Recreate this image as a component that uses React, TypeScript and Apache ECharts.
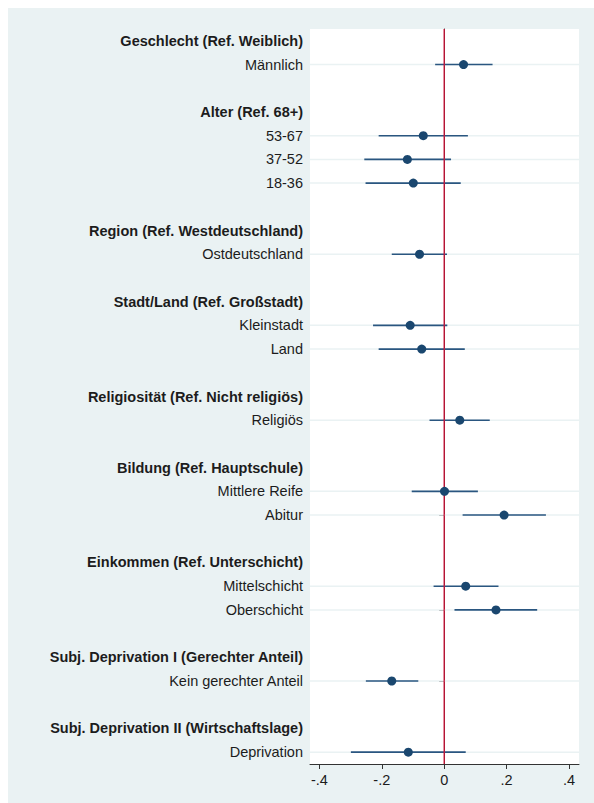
import React, { useEffect, useRef } from "react";
import * as echarts from "echarts";

const groups = [
  "Geschlecht (Ref. Weiblich)",
  "Alter (Ref. 68+)",
  "Region (Ref. Westdeutschland)",
  "Stadt/Land (Ref. Großstadt)",
  "Religiosität (Ref. Nicht religiös)",
  "Bildung (Ref. Hauptschule)",
  "Einkommen (Ref. Unterschicht)",
  "Subj. Deprivation I (Gerechter Anteil)",
  "Subj. Deprivation II (Wirtschaftslage)",
];

const terms = [
  ["Männlich"],
  ["53-67", "37-52", "18-36"],
  ["Ostdeutschland"],
  ["Kleinstadt", "Land"],
  ["Religiös"],
  ["Mittlere Reife", "Abitur"],
  ["Mittelschicht", "Oberschicht"],
  ["Kein gerechter Anteil"],
  ["Deprivation"],
];

const coef = [
  [0.062],
  [-0.067, -0.118, -0.099],
  [-0.079],
  [-0.109, -0.072],
  [0.05],
  [0.001, 0.192],
  [0.069, 0.166],
  [-0.168],
  [-0.115],
];

const lower = [
  [-0.029],
  [-0.21, -0.256, -0.252],
  [-0.168],
  [-0.228, -0.21],
  [-0.047],
  [-0.104, 0.059],
  [-0.034, 0.033],
  [-0.251],
  [-0.299],
];

const upper = [
  [0.155],
  [0.076, 0.022, 0.053],
  [0.009],
  [0.01, 0.066],
  [0.146],
  [0.108, 0.326],
  [0.174, 0.298],
  [-0.083],
  [0.069],
];

const xTicks = [-0.4, -0.2, 0, 0.2, 0.4];
const xTickLabels = ["-.4", "-.2", "0", ".2", ".4"];

export default function App() {
  const ref = useRef<HTMLDivElement>(null);

  useEffect(() => {
    if (!ref.current) return;
    const chart = echarts.init(ref.current, undefined, { renderer: "svg" });

    const rowLabels: string[] = [];
    const rowKind: string[] = [];
    const pointData: number[][] = [];
    const ciData: number[][] = [];
    groups.forEach((g, gi) => {
      if (gi > 0) {
        rowLabels.push("");
        rowKind.push("blank");
      }
      rowLabels.push(g);
      rowKind.push("header");
      terms[gi].forEach((t, ti) => {
        const idx = rowLabels.length;
        rowLabels.push(t);
        rowKind.push("term");
        pointData.push([coef[gi][ti], idx]);
        ciData.push([lower[gi][ti], upper[gi][ti], idx]);
      });
    });
    const termRows = ciData.map((d) => [d[2]]);

    const font = "'Liberation Sans', Arial, Helvetica, sans-serif";
    const textColor = "#1c1c1c";
    const navy = "#1a476f";
    const fs = 14.5;

    chart.setOption({
      animation: false,
      backgroundColor: "#eaf2f3",
      grid: {
        left: 302,
        right: 15,
        top: 21,
        bottom: 39,
        show: true,
        backgroundColor: "#ffffff",
        borderWidth: 0,
      },
      xAxis: {
        type: "value",
        min: -0.43,
        max: 0.432,
        axisLine: { show: true, lineStyle: { color: "#333", width: 1 } },
        axisTick: {
          show: true,
          length: 5,
          customValues: xTicks,
          lineStyle: { color: "#333", width: 1 },
        },
        axisLabel: {
          customValues: xTicks,
          margin: 8,
          fontSize: fs,
          fontFamily: font,
          color: textColor,
          formatter: (v: number) => {
            const i = xTicks.findIndex((t) => Math.abs(t - v) < 1e-9);
            return i >= 0 ? xTickLabels[i] : "";
          },
        },
        splitLine: { show: false },
      },
      yAxis: {
        type: "category",
        inverse: true,
        data: rowLabels,
        boundaryGap: true,
        axisLine: { show: true, lineStyle: { color: "#333", width: 1 } },
        axisTick: {
          show: true,
          alignWithLabel: true,
          length: 5,
          interval: (i: number) => rowKind[i] === "term",
          lineStyle: { color: "#333", width: 1 },
        },
        axisLabel: {
          interval: 0,
          margin: 7,
          fontSize: fs,
          fontFamily: font,
          color: textColor,
          formatter: (v: string, i: number) => {
            if (rowKind[i] === "header") return "{b|" + v + "}";
            if (rowKind[i] === "blank") return "";
            return "{n|" + v + "}";
          },
          rich: {
            b: { fontWeight: "bold", fontSize: fs, fontFamily: font, color: textColor },
            n: { fontWeight: "normal", fontSize: fs, fontFamily: font, color: textColor },
          },
        },
        splitLine: { show: false },
      },
      series: [
        {
          type: "custom",
          z: 1,
          silent: true,
          data: termRows,
          encode: { y: 0 },
          renderItem: (params: any, api: any) => {
            const cs = params.coordSys;
            const y = api.coord([0, api.value(0)])[1];
            return {
              type: "line",
              shape: { x1: cs.x, y1: y, x2: cs.x + cs.width, y2: y },
              style: { stroke: "#eaf2f3", lineWidth: 1.5 },
            };
          },
        },
        {
          type: "custom",
          z: 2,
          silent: true,
          data: ciData,
          encode: { x: [0, 1], y: 2 },
          renderItem: (params: any, api: any) => {
            const p1 = api.coord([api.value(0), api.value(2)]);
            const p2 = api.coord([api.value(1), api.value(2)]);
            return {
              type: "line",
              shape: { x1: p1[0], y1: p1[1], x2: p2[0], y2: p2[1] },
              style: { stroke: "#2a5680", lineWidth: 1.6 },
            };
          },
        },
        {
          type: "custom",
          z: 3,
          silent: true,
          data: [[0]],
          encode: { x: 0 },
          renderItem: (params: any, api: any) => {
            const cs = params.coordSys;
            const x = api.coord([api.value(0), 0])[0];
            return {
              type: "line",
              shape: { x1: x, y1: cs.y, x2: x, y2: cs.y + cs.height },
              style: { stroke: "#cc1136", lineWidth: 1.3 },
            };
          },
        },
        {
          type: "scatter",
          z: 4,
          silent: true,
          symbol: "circle",
          symbolSize: 9,
          itemStyle: { color: navy, opacity: 1 },
          data: pointData,
        },
      ],
    });

    return () => chart.dispose();
  }, []);

  return (
    <div
      ref={ref}
      style={{ position: "absolute", left: 8, top: 8, width: 586, height: 795 }}
    />
  );
}
